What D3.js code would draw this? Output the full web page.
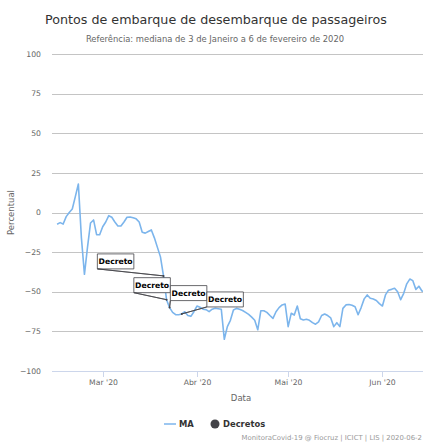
<!DOCTYPE html>
<html>
<head>
<meta charset="utf-8">
<script src="https://cdn.jsdelivr.net/npm/d3@7"></script>
<style>
  body { margin: 0; background: #fff; }
  svg { display: block; font-family: "DejaVu Sans", sans-serif; }
</style>
</head>
<body>
<div id="chart"></div>
<script>
// daily moving average, starting 2020-02-15
const firstDay = "2020-02-15";
const maValues = [
  // Feb 15 - Feb 29
  -7.4, -6.4, -7.3, -2.6, 0, 2.2, 10, 18, -16, -39, -22, -6.6, -4.7, -14, -14,
  // Mar
  -9, -6, -2, -3, -6, -8.5, -8.5, -6, -3, -2.8, -3.3, -4, -6, -12.5, -13, -12,
  -11, -16, -22, -28, -40, -55, -60, -63, -64.5, -64.5, -64, -62.6, -65, -65.5, -62.6,
  // Apr
  -59, -59.8, -61, -61.3, -62.5, -61, -60.4, -60.7, -61, -80, -72, -68, -61.5, -60.5, -61,
  -61.8, -63, -64.3, -66, -68, -74, -62, -62, -63, -65, -66.8, -62.6, -60, -58.3, -57.7,
  // May
  -72, -63.6, -64.7, -59, -67, -67.8, -67.4, -68, -69.5, -70.5, -69, -65, -64, -65, -66.5,
  -72, -69.5, -72, -60.5, -58.3, -58, -58.5, -59.5, -64.5, -60, -54.5, -52, -54.1, -54.6, -55.5, -57.5,
  // Jun 1 - Jun 15
  -59, -52, -49, -48.5, -47.8, -50, -55, -51, -45, -42, -43, -48.5, -46.5, -49.5, -50
];
const decretoDates = ["2020-03-21", "2020-03-22", "2020-03-23", "2020-03-27"];
const decretoLabel = "Decreto";

const yTicks = [-100, -75, -50, -25, 0, 25, 50, 75, 100];
const xTickDates = ["2020-03-01", "2020-04-01", "2020-05-01", "2020-06-01"];
const xTickLabels = ["Mar '20", "Abr '20", "Mai '20", "Jun '20"];

const titleText = "Pontos de embarque de desembarque de passageiros";
const subtitleText = "Referência: mediana de 3 de Janeiro a 6 de fevereiro de 2020";
const creditText = "MonitoraCovid-19 @ Fiocruz | ICICT | LIS | 2020-06-2";

const width = 423;
const height = 443;
const plotLeft = 52;
const plotTop = 54;
const plotBottom = 371;

const parse = d3.timeParse("%Y-%m-%d");
const start = parse(firstDay);
const series = maValues.map((v, i) => ({ date: d3.timeDay.offset(start, i), value: v }));

const x = d3.scaleTime()
  .domain([parse("2020-02-13"), parse("2020-06-15")])
  .range([51, 425]);
const y = d3.scaleLinear().domain([-100, 100]).range([plotBottom, plotTop]);

const svg = d3.select("#chart").append("svg")
  .attr("width", width)
  .attr("height", height);

svg.append("text")
  .attr("x", 216).attr("y", 24)
  .attr("text-anchor", "middle")
  .attr("fill", "#333")
  .style("font-size", "12.7px")
  .text(titleText);

svg.append("text")
  .attr("x", 215).attr("y", 42)
  .attr("text-anchor", "middle")
  .attr("fill", "#666")
  .style("font-size", "8.4px")
  .text(subtitleText);

// grid + y labels
const grid = svg.append("g");
grid.selectAll("line")
  .data(yTicks.filter((d) => d !== -100))
  .join("line")
  .attr("x1", plotLeft).attr("x2", width)
  .attr("y1", (d) => Math.round(y(d)) + 0.5)
  .attr("y2", (d) => Math.round(y(d)) + 0.5)
  .attr("stroke", "#c4c4c4");

grid.selectAll("text")
  .data(yTicks)
  .join("text")
  .attr("x", 41)
  .attr("y", (d) => y(d))
  .attr("dy", "0.35em")
  .attr("text-anchor", "end")
  .attr("fill", "#666")
  .style("font-size", "7.7px")
  .text((d) => d3.format("d")(d).replace("-", "\u2212"));

svg.append("text")
  .attr("transform", `translate(14,${y(0)}) rotate(-90)`)
  .attr("text-anchor", "middle")
  .attr("fill", "#666")
  .style("font-size", "8.5px")
  .text("Percentual");

// x axis
const xAxis = svg.append("g");
xAxis.append("line")
  .attr("x1", plotLeft).attr("x2", width)
  .attr("y1", plotBottom + 0.5).attr("y2", plotBottom + 0.5)
  .attr("stroke", "#ccd6eb");

const xt = xAxis.selectAll(".tick")
  .data(xTickDates.map((d, i) => ({ date: parse(d), label: xTickLabels[i] })))
  .join("g")
  .attr("class", "tick")
  .attr("transform", (d) => `translate(${Math.round(x(d.date)) + 0.5},0)`);
xt.append("line")
  .attr("y1", plotBottom).attr("y2", plotBottom + 6)
  .attr("stroke", "#ccd6eb");
xt.append("text")
  .attr("y", plotBottom + 14)
  .attr("text-anchor", "middle")
  .attr("fill", "#666")
  .style("font-size", "7.7px")
  .text((d) => d.label);

svg.append("text")
  .attr("x", 241).attr("y", 401)
  .attr("text-anchor", "middle")
  .attr("fill", "#666")
  .style("font-size", "8.5px")
  .text("Data");

// MA line
const line = d3.line()
  .x((d) => x(d.date))
  .y((d) => y(d.value));

svg.append("path")
  .datum(series)
  .attr("fill", "none")
  .attr("stroke", "#7cb5ec")
  .attr("stroke-width", 1.6)
  .attr("stroke-linejoin", "round")
  .attr("d", line);

// flags (Decretos), spread side by side like highcharts does
const flagW = 36.5;
const flagH = 15;
const valueAt = (dt) => series.find((d) => +d.date === +dt).value;
const flags = decretoDates.map((s) => {
  const dt = parse(s);
  return { ax: x(dt), ay: y(valueAt(dt)) };
});
const meanLeft = d3.mean(flags, (f) => f.ax - flagW / 2);
flags.forEach((f, i) => {
  f.bx = meanLeft + (i - (flags.length - 1) / 2) * flagW;
  f.by = f.ay - 22;
});

const flag = svg.append("g").selectAll("g")
  .data(flags)
  .join("g");
flag.append("path")
  .attr("fill", "#fff")
  .attr("stroke", "#434348")
  .attr("stroke-width", 0.8)
  .attr("d", (f) => {
    const p = d3.path();
    p.moveTo(f.ax, f.ay);
    p.lineTo(f.bx, f.by + flagH);
    p.lineTo(f.bx, f.by);
    p.lineTo(f.bx + flagW, f.by);
    p.lineTo(f.bx + flagW, f.by + flagH);
    p.lineTo(f.bx, f.by + flagH);
    p.closePath();
    return p.toString();
  });
flag.append("circle")
  .attr("cx", (f) => f.ax).attr("cy", (f) => f.ay)
  .attr("r", 1)
  .attr("fill", "#434348");
flag.append("text")
  .attr("x", (f) => f.bx + flagW / 2)
  .attr("y", (f) => f.by + flagH / 2)
  .attr("dy", "0.35em")
  .attr("text-anchor", "middle")
  .attr("fill", "#000")
  .style("font-size", "7.7px")
  .style("font-weight", "bold")
  .text(decretoLabel);

// legend
const legend = svg.append("g").attr("transform", "translate(0,424)");
legend.append("line")
  .attr("x1", 164).attr("x2", 176)
  .attr("stroke", "#7cb5ec").attr("stroke-width", 1.5);
legend.append("text")
  .attr("x", 179).attr("dy", "0.35em")
  .attr("fill", "#333")
  .style("font-size", "8.4px").style("font-weight", "bold")
  .text("MA");
legend.append("circle")
  .attr("cx", 215).attr("r", 4.5)
  .attr("fill", "#434348");
legend.append("text")
  .attr("x", 223).attr("dy", "0.35em")
  .attr("fill", "#333")
  .style("font-size", "8.4px").style("font-weight", "bold")
  .text("Decretos");

svg.append("text")
  .attr("x", 422).attr("y", 440)
  .attr("text-anchor", "end")
  .attr("fill", "#999")
  .style("font-size", "6.9px")
  .text(creditText);
</script>
</body>
</html>
